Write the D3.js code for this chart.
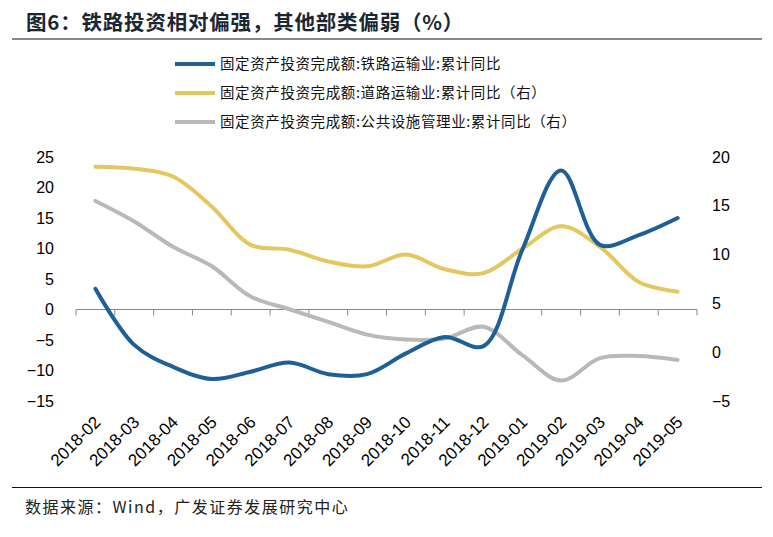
<!DOCTYPE html>
<html><head><meta charset="utf-8">
<script src="https://cdn.jsdelivr.net/npm/d3@7"></script>
<style>
html,body{margin:0;padding:0;background:#fff;}
svg{display:block;}
</style></head>
<body>
<svg id="c" width="773" height="537"></svg>
<script>
const categories = ["2018-02","2018-03","2018-04","2018-05","2018-06","2018-07","2018-08","2018-09","2018-10","2018-11","2018-12","2019-01","2019-02","2019-03","2019-04","2019-05"];
const railway = [3.4, -5.8, -9.4, -11.4, -10.2, -8.7, -10.6, -10.6, -7.2, -4.5, -6.0, 9.8, 22.8, 10.6, 12.2, 15.0];
const road = [19.0, 18.8, 18.0, 14.9, 11.0, 10.5, 9.3, 8.8, 10.0, 8.5, 8.1, 10.6, 12.9, 10.8, 7.2, 6.2];
const publicUtil = [15.5, 13.4, 10.8, 8.8, 5.7, 4.4, 3.1, 1.8, 1.3, 1.4, 2.6, -0.3, -2.9, -0.6, -0.4, -0.8];
const leftTicks = [-15, -10, -5, 0, 5, 10, 15, 20, 25];
const rightTicks = [-5, 0, 5, 10, 15, 20];
const seriesNames = ["固定资产投资完成额:铁路运输业:累计同比", "固定资产投资完成额:道路运输业:累计同比（右）", "固定资产投资完成额:公共设施管理业:累计同比（右）"];
const colors = ["#1F5F98", "#E4C85F", "#B9B9B9"];

const svg = d3.select("#c");
const cjk = "'Noto Sans CJK SC','Noto Sans',sans-serif";
const latin = "Arial,'Liberation Sans',sans-serif";

// Title
svg.append("text").attr("x", 26).attr("y", 30)
  .attr("font-family", cjk).attr("font-weight", "bold").attr("font-size", 20.5)
  .attr("letter-spacing", 0.8)
  .attr("fill", "#1b2633").text("图6：铁路投资相对偏强，其他部类偏弱（%）");
svg.append("line").attr("x1", 12).attr("x2", 762).attr("y1", 39).attr("y2", 39)
  .attr("stroke", "#111").attr("stroke-width", 1.2);

// Footer
svg.append("line").attr("x1", 12).attr("x2", 762).attr("y1", 487.5).attr("y2", 487.5)
  .attr("stroke", "#111").attr("stroke-width", 1.2);
svg.append("text").attr("x", 25).attr("y", 513)
  .attr("font-family", cjk).attr("font-size", 16).attr("letter-spacing", 1.5)
  .attr("fill", "#222").text("数据来源：Wind，广发证券发展研究中心");

// Scales
const x = d3.scaleBand().domain(categories).range([76, 697]).paddingInner(0).paddingOuter(0);
const cx = d => x(d) + x.bandwidth() / 2;
const yL = d3.scaleLinear().domain([-15, 25]).range([401, 157]);
const yR = d3.scaleLinear().domain([-5, 20]).range([401, 157]);

// Left axis
const axL = svg.append("g").attr("transform", "translate(54,0)")
  .call(d3.axisLeft(yL).tickValues(leftTicks).tickSize(0).tickPadding(0));
axL.select(".domain").remove();
axL.selectAll("text").attr("font-family", latin).attr("font-size", 16).attr("fill", "#000");

// Right axis
const axR = svg.append("g").attr("transform", "translate(712,0)")
  .call(d3.axisRight(yR).tickValues(rightTicks).tickSize(0).tickPadding(0));
axR.select(".domain").remove();
axR.selectAll("text").attr("font-family", latin).attr("font-size", 16).attr("fill", "#000");

// Zero axis with ticks at band boundaries
const zeroY = yL(0);
const axX = svg.append("g").attr("transform", `translate(0,${zeroY})`)
  .call(d3.axisBottom(x).tickSize(0).tickFormat(""));
axX.select(".domain").attr("stroke", "#888").attr("d", `M76,0H697`);
const bounds = categories.map(c => x(c)).concat([697]);
axX.selectAll(".bt").data(bounds).join("line").attr("class", "bt")
  .attr("x1", d => d).attr("x2", d => d).attr("y1", 0).attr("y2", 6)
  .attr("stroke", "#888").attr("stroke-width", 1);

// X labels at bottom
svg.append("g").selectAll("text").data(categories).join("text")
  .attr("transform", d => `translate(${cx(d) + 2},${419}) rotate(-45)`)
  .attr("text-anchor", "end").attr("dy", "0.35em")
  .attr("font-family", latin).attr("font-size", 17).attr("fill", "#000")
  .text(d => d);

// Lines
const curve = d3.curveCatmullRom.alpha(0.5);
const mk = (scale) => d3.line().x((d, i) => cx(categories[i])).y(d => scale(d)).curve(curve);
const plot = svg.append("g");
plot.append("path").datum(publicUtil).attr("d", mk(yR)).attr("fill", "none")
  .attr("stroke", colors[2]).attr("stroke-width", 4).attr("stroke-linecap", "round");
plot.append("path").datum(road).attr("d", mk(yR)).attr("fill", "none")
  .attr("stroke", colors[1]).attr("stroke-width", 4).attr("stroke-linecap", "round");
plot.append("path").datum(railway).attr("d", mk(yL)).attr("fill", "none")
  .attr("stroke", colors[0]).attr("stroke-width", 4).attr("stroke-linecap", "round");

// Legend
const lg = svg.append("g");
const rowsY = [64, 93, 122];
seriesNames.forEach((n, i) => {
  lg.append("line").attr("x1", 175).attr("x2", 215).attr("y1", rowsY[i]).attr("y2", rowsY[i])
    .attr("stroke", colors[i]).attr("stroke-width", 4);
  lg.append("text").attr("x", 220).attr("y", rowsY[i]).attr("dy", "0.35em")
    .attr("font-family", cjk).attr("font-size", 14.5).attr("letter-spacing", 0.6)
    .attr("fill", "#111").text(n);
});
</script>
</body></html>
